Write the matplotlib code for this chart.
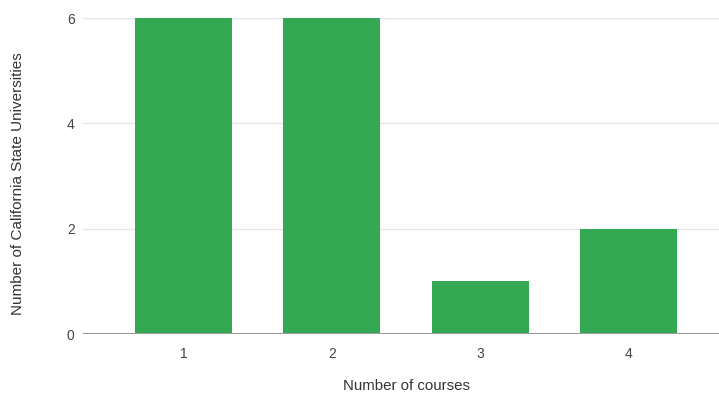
import matplotlib.pyplot as plt

plt.rcParams['font.family'] = ['Liberation Sans', 'DejaVu Sans']

courses = [1, 2, 3, 4]
universities = [6, 6, 1, 2]
y_ticks = [0, 2, 4, 6]

fig = plt.figure(figsize=(7.19, 3.96), dpi=100)
ax = fig.add_axes([83 / 719, 62 / 396, 636 / 719, 316 / 396])

ax.bar(courses, universities, width=0.655, color='#34a853', zorder=2)

ax.set_xlim(0.322, 4.61)
ax.set_ylim(0, 6)
ax.set_yticks(y_ticks)
ax.set_xticks(courses)
ax.grid(axis='y', color='#e6e6e6', linewidth=1, zorder=0)
ax.axhline(0, color='#9a9a9a', linewidth=1.5, zorder=3)

for side in ax.spines.values():
    side.set_visible(False)
ax.tick_params(length=0, labelsize=10, labelcolor='#444444')
ax.tick_params(axis='y', pad=6)
ax.tick_params(axis='x', pad=9)

ax.set_xlabel('Number of courses', fontsize=10.8, color='#333333')
ax.set_ylabel('Number of California State Universities', fontsize=11,
              color='#333333')
ax.xaxis.set_label_coords(0.508, -0.165)
ax.yaxis.set_label_coords(-0.102, 0.475)
ax.xaxis.label.set_va('center')
ax.yaxis.label.set_va('center')

fig.savefig('out.png', dpi=100)
